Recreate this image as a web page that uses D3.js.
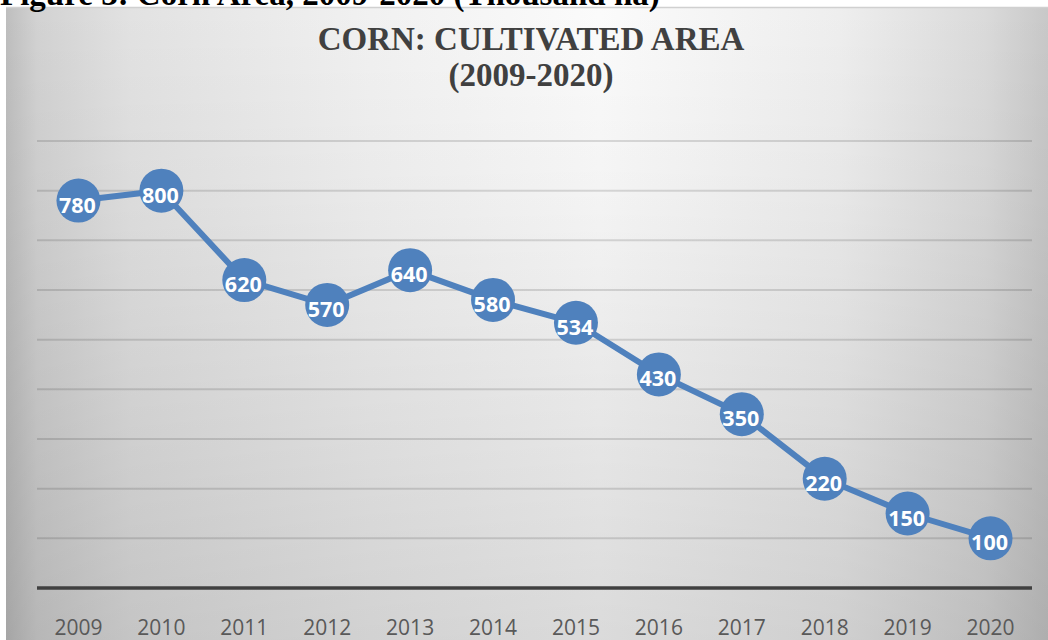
<!DOCTYPE html>
<html>
<head>
<meta charset="utf-8">
<script src="https://cdn.jsdelivr.net/npm/d3@7"></script>
<style>
html,body{margin:0;padding:0;background:#fff;}
svg{display:block;}
</style>
</head>
<body>
<svg id="chart" width="1048" height="640"></svg>
<script>
const years = ["2009","2010","2011","2012","2013","2014","2015","2016","2017","2018","2019","2020"];
const areaValues = [780, 800, 620, 570, 640, 580, 534, 430, 350, 220, 150, 100];
const gridTicks = [100, 200, 300, 400, 500, 600, 700, 800, 900];
const captionText = "Figure 3: Corn Area, 2009-2020 (Thousand ha)";
const titleLines = ["CORN: CULTIVATED AREA", "(2009-2020)"];

const W = 1048, H = 640;
const svg = d3.select("#chart");
const defs = svg.append("defs");

// background gradients
const hg = defs.append("linearGradient").attr("id","hg").attr("x1","0").attr("x2","1").attr("y1","0").attr("y2","0");
[[0,"#bebebe"],[0.03,"#d2d2d2"],[0.12,"#e2e2e2"],[0.35,"#f1f1f1"],[0.57,"#fbfbfb"],[0.8,"#eeeeee"],[0.94,"#dadada"],[1,"#c8c8c8"]]
  .forEach(([o,c]) => hg.append("stop").attr("offset",o).attr("stop-color",c));
const vg = defs.append("linearGradient").attr("id","vg").attr("x1","0").attr("x2","0").attr("y1","0").attr("y2","1");
[[0,0],[0.3,0.03],[1,0.13]].forEach(([o,a]) => vg.append("stop").attr("offset",o).attr("stop-color","#000").attr("stop-opacity",a));

const box = {x:6, y:7, w:W-6, h:H-7};
svg.append("rect").attr("x",box.x).attr("y",box.y).attr("width",box.w).attr("height",box.h).attr("fill","url(#hg)");
svg.append("rect").attr("x",box.x).attr("y",box.y).attr("width",box.w).attr("height",box.h).attr("fill","url(#vg)");
svg.append("line").attr("x1",box.x).attr("x2",W).attr("y1",box.y+0.5).attr("y2",box.y+0.5).attr("stroke","#d0d0d0").attr("stroke-width",1.5);

// caption (cut off at top, as in the source page)
svg.append("text").attr("x",0).attr("y",5)
  .attr("font-family","Liberation Serif, serif").attr("font-weight","bold").attr("font-size",33)
  .attr("fill","#000").text(captionText);

// scales
const plot = {left:37, right:1032, top:141, bottom:588};
const x = d3.scaleBand().domain(years).range([plot.left, plot.right]).paddingInner(0).paddingOuter(0);
const y = d3.scaleLinear().domain([0, 900]).range([plot.bottom, plot.top]);

// grid
svg.append("g").selectAll("line").data(gridTicks).join("line")
  .attr("x1",plot.left).attr("x2",plot.right)
  .attr("y1",d=>y(d)).attr("y2",d=>y(d))
  .attr("stroke","#000").attr("stroke-opacity",0.13).attr("stroke-width",2);

// x axis
const xAxis = svg.append("g").attr("transform",`translate(0,${plot.bottom})`)
  .call(d3.axisBottom(x).tickSize(0).tickPadding(32));
xAxis.select(".domain").attr("stroke","#404040").attr("stroke-width",3.5).attr("d",`M${plot.left},0H${plot.right}`);
xAxis.selectAll("text").attr("font-family","Open Sans, sans-serif").attr("font-size",21).attr("fill","#595959");

// title
const title = svg.append("text").attr("text-anchor","middle")
  .attr("font-family","Liberation Serif, serif").attr("font-weight","bold").attr("font-size",33).attr("fill","#404040");
title.append("tspan").attr("x",531).attr("y",50).text(titleLines[0]);
title.append("tspan").attr("x",531).attr("y",86).text(titleLines[1]);

const cx = (d,i) => x(years[i]) + x.bandwidth()/2;

// line
const line = d3.line().x((d,i)=>cx(d,i)).y(d=>y(d));
svg.append("path").datum(areaValues).attr("d",line)
  .attr("fill","none").attr("stroke","#4f81bd").attr("stroke-width",6).attr("stroke-linejoin","round");

// markers
svg.append("g").selectAll("circle").data(areaValues).join("circle")
  .attr("cx",(d,i)=>cx(d,i)).attr("cy",d=>y(d)).attr("r",22).attr("fill","#4f81bd");

// labels
svg.append("g").selectAll("text").data(areaValues).join("text")
  .attr("x",(d,i)=>cx(d,i)-1).attr("y",d=>y(d)+12)
  .attr("text-anchor","middle").attr("font-family","Open Sans, sans-serif").attr("font-weight","bold")
  .attr("font-size",21.5).attr("fill","#fff").text(d=>d);
</script>
</body>
</html>
